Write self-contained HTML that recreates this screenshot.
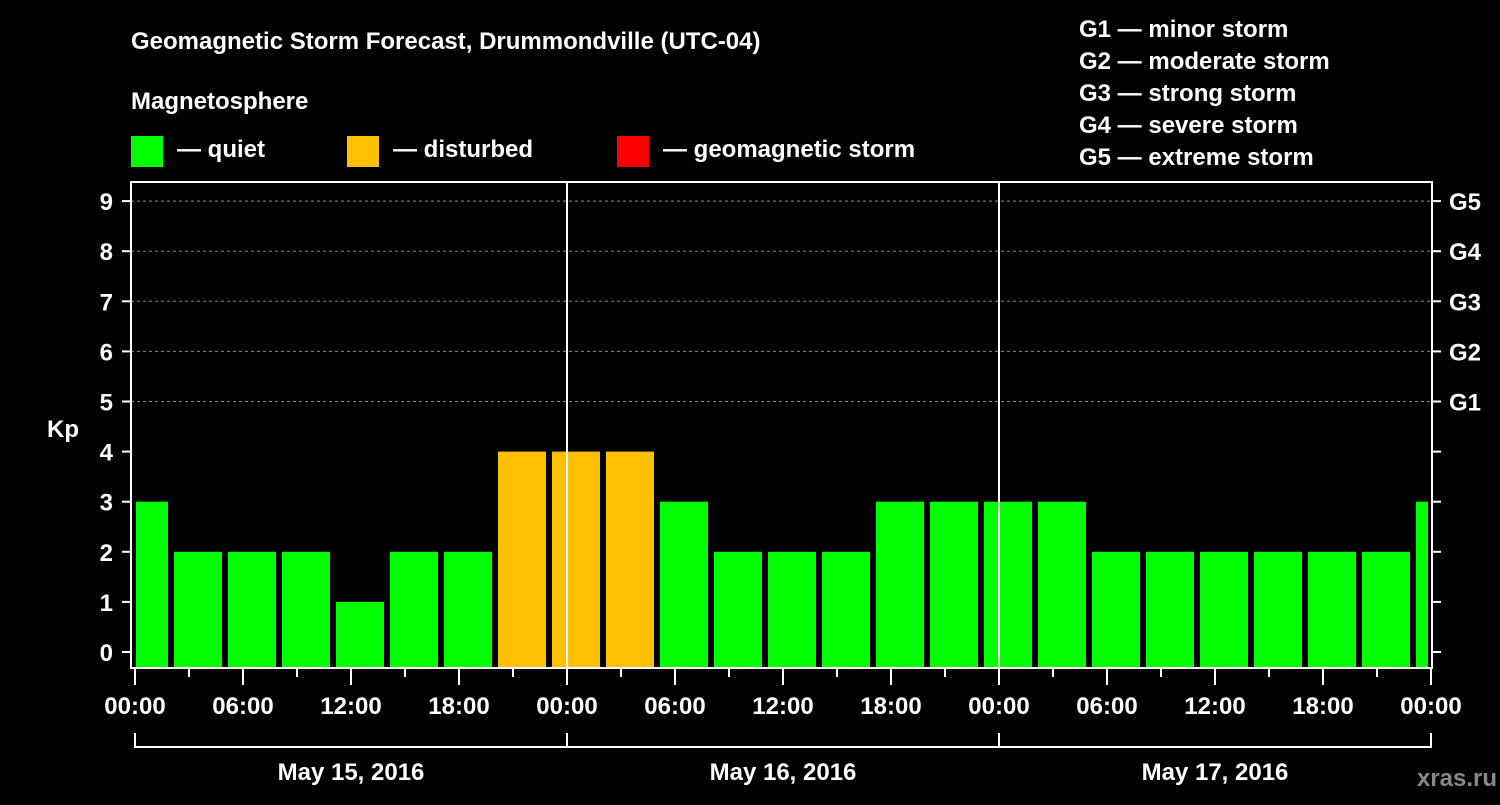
<!DOCTYPE html>
<html><head><meta charset="utf-8"><style>
body{margin:0;background:#000;width:1500px;height:800px;overflow:hidden}
svg text{font-family:"Liberation Sans",Arial,sans-serif;font-weight:bold;fill:#fff}
</style></head><body>
<svg id="c" width="1500" height="800">
<text x="131" y="49" font-size="24">Geomagnetic Storm Forecast, Drummondville (UTC-04)</text>
<text x="131" y="109" font-size="24">Magnetosphere</text>
<rect x="131" y="136" width="32" height="31" fill="#00ff00"/>
<text x="177" y="157" font-size="24">— quiet</text>
<rect x="347" y="136" width="32" height="31" fill="#ffc000"/>
<text x="393" y="157" font-size="24">— disturbed</text>
<rect x="617" y="136" width="32" height="31" fill="#ff0000"/>
<text x="663" y="157" font-size="24">— geomagnetic storm</text>
<g font-size="24">
<text x="1079" y="37">G1 — minor storm</text>
<text x="1079" y="69">G2 — moderate storm</text>
<text x="1079" y="101">G3 — strong storm</text>
<text x="1079" y="133">G4 — severe storm</text>
<text x="1079" y="165">G5 — extreme storm</text>
</g>
<g id="grid"></g><g id="bars"></g><g id="axes"></g>
<text x="63" y="437" font-size="24" text-anchor="middle">Kp</text>
<text x="1497" y="786" font-size="24" text-anchor="end" fill="#888" style="fill:#888">xras.ru</text>
</svg>
<script>
const kpValues=[3,2,2,2,1,2,2,4,4,4,3,2,2,2,3,3,3,3,2,2,2,2,2,2,3];
const blockStartHours=[-1,2,5,8,11,14,17,20,23,26,29,32,35,38,41,44,47,50,53,56,59,62,65,68,71];
const yTicks=[0,1,2,3,4,5,6,7,8,9];
const gLabels=["G1","G2","G3","G4","G5"];
const dayLabels=["May 15, 2016","May 16, 2016","May 17, 2016"];
const xTickLabels=["00:00","06:00","12:00","18:00","00:00","06:00","12:00","18:00","00:00","06:00","12:00","18:00","00:00"];
const NS="http://www.w3.org/2000/svg";
const X0=135,PXH=18,L=131,R=1432,T=182,B=668;
const xs=h=>X0+h*PXH;
const ys=v=>652-v*50.1;
function mk(tag,attrs,parent,txt){const e=document.createElementNS(NS,tag);for(const k in attrs)e.setAttribute(k,attrs[k]);if(txt!==undefined)e.textContent=txt;document.getElementById(parent).appendChild(e);return e;}
const color=v=>v>=5?"#ff0000":v>=4?"#ffc000":"#00ff00";
// grid
[5,6,7,8,9].forEach(v=>{const e=mk("line",{x1:L,x2:R,y1:ys(v),y2:ys(v),stroke:"#888","stroke-dasharray":"3,3"},"grid");

});
// bars
kpValues.forEach((v,i)=>{let a=xs(blockStartHours[i])+3,b=xs(blockStartHours[i]+3)-3;a=Math.max(a,X0+1);b=Math.min(b,R-4);
const e=mk("rect",{x:a,y:ys(v),width:b-a,height:B-1-ys(v),fill:color(v)},"bars");

});
// day separators
[24,48].forEach(h=>{const e=mk("line",{x1:xs(h),x2:xs(h),y1:T,y2:B,stroke:"#fff","stroke-width":2},"axes");

});
const fr=mk("rect",{x:L,y:T,width:R-L,height:B-T,fill:"none",stroke:"#fff","stroke-width":2},"axes");


yTicks.forEach(v=>{mk("line",{x1:122,x2:L,y1:ys(v),y2:ys(v),stroke:"#fff","stroke-width":2},"axes");
mk("line",{x1:R,x2:R+9,y1:ys(v),y2:ys(v),stroke:"#fff","stroke-width":2},"axes");
const t=mk("text",{x:113,y:ys(v)+9,"font-size":24,"text-anchor":"end"},"axes",String(v));

});
gLabels.forEach((g,i)=>{const t=mk("text",{x:1449,y:ys(5+i)+9,"font-size":24},"axes",g);

});
for(let h=0;h<=72;h+=3){mk("line",{x1:xs(h),x2:xs(h),y1:B,y2:h%6?677:685,stroke:"#fff","stroke-width":2},"axes");}
xTickLabels.forEach((s,i)=>{const t=mk("text",{x:xs(i*6),y:714,"font-size":24,"text-anchor":"middle"},"axes",s);

});
mk("line",{x1:xs(0),x2:xs(72),y1:747,y2:747,stroke:"#fff","stroke-width":2},"axes");
[0,24,48,72].forEach(h=>mk("line",{x1:xs(h),x2:xs(h),y1:733,y2:748,stroke:"#fff","stroke-width":2},"axes"));
dayLabels.forEach((d,i)=>{const t=mk("text",{x:xs(i*24+12),y:780,"font-size":24,"text-anchor":"middle"},"axes",d);

});
</script>
</body></html>
